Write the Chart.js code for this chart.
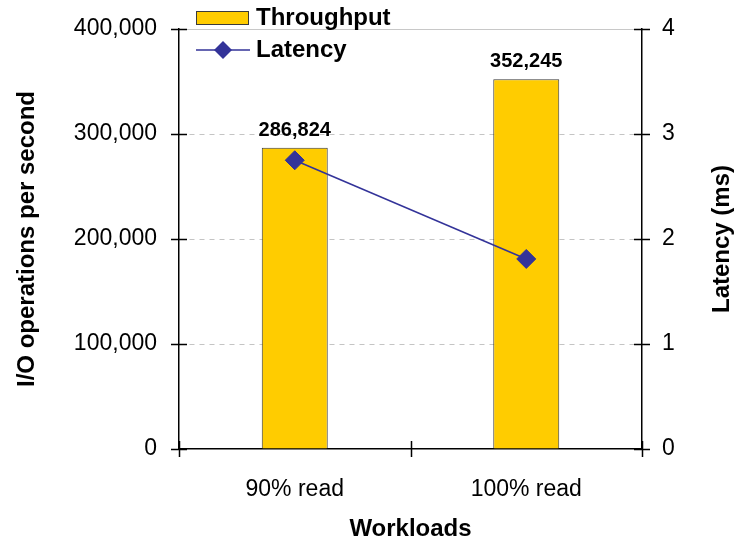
<!DOCTYPE html>
<html>
<head>
<meta charset="utf-8">
<script src="https://cdn.jsdelivr.net/npm/chart.js@4/dist/chart.umd.min.js"></script>
<style>
  html, body { margin: 0; padding: 0; background: #ffffff; }
  #wrap { width: 734px; height: 544px; }
</style>
</head>
<body>
<div id="wrap"><canvas id="c" width="734" height="544"></canvas></div>
<script>
// Workload categories and measured results
const workloads = ['90% read', '100% read'];
const throughput = [286824, 352245];      // I/O operations per second
const latency = [2.75, 1.81];             // milliseconds
const throughputTicks = [0, 100000, 200000, 300000, 400000];
const latencyTicks = [0, 1, 2, 3, 4];

const FONT = "'Liberation Sans', Arial, sans-serif";
const BAR_FILL = '#FFCC00';
const BAR_EDGE = '#3a3a3a';
const LINE_COLOR = '#333399';

const fmt = v => v.toLocaleString('en-US');

// Cross-shaped tick marks on the three axes, top frame line, value labels,
// the right axis title and the legend.
const decorations = {
  id: 'decorations',
  beforeDatasetsDraw(chart) {
    const { ctx, chartArea } = chart;
    ctx.save();
    ctx.strokeStyle = '#c8c8c8';
    ctx.lineWidth = 1;
    ctx.beginPath();
    ctx.moveTo(chartArea.left, Math.round(chartArea.top) + 0.5);
    ctx.lineTo(chartArea.right, Math.round(chartArea.top) + 0.5);
    ctx.stroke();
    ctx.restore();
  },
  afterDatasetsDraw(chart) {
    const { ctx, chartArea, scales } = chart;
    const L = 8;
    ctx.save();
    ctx.strokeStyle = '#000';
    ctx.lineWidth = 1.5;
    ctx.beginPath();
    throughputTicks.forEach(v => {
      const y = Math.round(scales.y.getPixelForValue(v)) + 0.5;
      ctx.moveTo(chartArea.left - L, y);
      ctx.lineTo(chartArea.left + L, y);
    });
    latencyTicks.forEach(v => {
      const y = Math.round(scales.y1.getPixelForValue(v)) + 0.5;
      ctx.moveTo(chartArea.right - L, y);
      ctx.lineTo(chartArea.right + L, y);
    });
    for (let i = 0; i <= workloads.length; i++) {
      const x = Math.round(scales.x.getPixelForValue(i - 0.5)) + 0.5;
      ctx.moveTo(x, chartArea.bottom - L);
      ctx.lineTo(x, chartArea.bottom + L);
    }
    ctx.stroke();

    // value labels above the bars
    const barMeta = chart.getDatasetMeta(0);
    ctx.fillStyle = '#000';
    ctx.font = "bold 20px " + FONT;
    ctx.textAlign = 'center';
    ctx.textBaseline = 'alphabetic';
    barMeta.data.forEach((el, i) => {
      ctx.fillText(fmt(throughput[i]), el.x, el.y - 12);
    });

    // right axis title, reading upwards
    ctx.save();
    ctx.translate(722, (chartArea.top + chartArea.bottom) / 2);
    ctx.rotate(-Math.PI / 2);
    ctx.font = "bold 24px " + FONT;
    ctx.textAlign = 'center';
    ctx.textBaseline = 'middle';
    ctx.fillText('Latency (ms)', 0, 0);
    ctx.restore();

    // legend
    ctx.font = "bold 24px " + FONT;
    ctx.textAlign = 'left';
    ctx.textBaseline = 'middle';
    ctx.fillStyle = BAR_FILL;
    ctx.fillRect(196, 11, 52, 13);
    ctx.strokeStyle = BAR_EDGE;
    ctx.lineWidth = 1;
    ctx.strokeRect(196.5, 11.5, 52, 13);
    ctx.fillStyle = '#000';
    ctx.fillText('Throughput', 256, 18);

    ctx.strokeStyle = LINE_COLOR;
    ctx.lineWidth = 1.5;
    ctx.beginPath();
    ctx.moveTo(196, 50);
    ctx.lineTo(250, 50);
    ctx.stroke();
    ctx.fillStyle = LINE_COLOR;
    ctx.beginPath();
    ctx.moveTo(223 - 9, 50);
    ctx.lineTo(223, 50 - 9);
    ctx.lineTo(223 + 9, 50);
    ctx.lineTo(223, 50 + 9);
    ctx.closePath();
    ctx.fill();
    ctx.fillStyle = '#000';
    ctx.fillText('Latency', 256, 50);
    ctx.restore();
  }
};

// vertical axes: fixed width, no extra room reserved for the end labels
const fixVertical = w => s => { s.width = w; s.paddingTop = 0; s.paddingBottom = 0; };

new Chart(document.getElementById('c'), {
  data: {
    labels: workloads,
    datasets: [
      {
        type: 'bar',
        label: 'Throughput',
        data: throughput,
        yAxisID: 'y',
        backgroundColor: BAR_FILL,
        borderColor: BAR_EDGE,
        borderWidth: 1,
        categoryPercentage: 1,
        barPercentage: 0.285,
        order: 1
      },
      {
        type: 'line',
        label: 'Latency',
        data: latency,
        yAxisID: 'y1',
        borderColor: LINE_COLOR,
        backgroundColor: LINE_COLOR,
        borderWidth: 1.5,
        pointStyle: 'rectRot',
        pointRadius: 9.5,
        pointBorderWidth: 1,
        pointBackgroundColor: LINE_COLOR,
        pointBorderColor: LINE_COLOR,
        tension: 0,
        order: 0
      }
    ]
  },
  options: {
    responsive: false,
    animation: false,
    devicePixelRatio: 1,
    layout: { padding: { top: 29, left: 0, right: 0, bottom: 0 } },
    plugins: {
      legend: { display: false },
      tooltip: { enabled: false }
    },
    scales: {
      x: {
        type: 'category',
        offset: true,
        grid: { display: false, drawTicks: false },
        border: { display: true, color: '#000', width: 1.5 },
        ticks: { color: '#000', font: { family: FONT, size: 23 }, padding: 27, maxRotation: 0 },
        title: {
          display: true,
          text: 'Workloads',
          color: '#000',
          font: { family: FONT, size: 24, weight: 'bold' },
          padding: { top: 0, bottom: 0 }
        },
        afterFit: s => { s.height = 95; s.paddingLeft = 0; s.paddingRight = 0; }
      },
      y: {
        type: 'linear',
        position: 'left',
        min: 0,
        max: 400000,
        afterBuildTicks: s => { s.ticks = throughputTicks.map(v => ({ value: v })); },
        grid: {
          color: ctx => (ctx.tick && (ctx.tick.value === 0 || ctx.tick.value === 400000)) ? 'rgba(0,0,0,0)' : '#c4c4c4',
          lineWidth: 1,
          drawTicks: false
        },
        border: { display: true, color: '#000', width: 1.5, dash: [5, 5] },
        ticks: {
          color: '#000',
          font: { family: FONT, size: 23 },
          padding: 22,
          callback: v => fmt(v)
        },
        title: {
          display: true,
          text: 'I/O operations per second',
          color: '#000',
          font: { family: FONT, size: 24, weight: 'bold' },
          padding: { top: 13, bottom: 0 }
        },
        afterFit: fixVertical(179)
      },
      y1: {
        type: 'linear',
        position: 'right',
        min: 0,
        max: 4,
        afterBuildTicks: s => { s.ticks = latencyTicks.map(v => ({ value: v })); },
        grid: { drawOnChartArea: false, drawTicks: false },
        border: { display: true, color: '#000', width: 1.5 },
        ticks: { color: '#000', font: { family: FONT, size: 23 }, padding: 20 },
        afterFit: fixVertical(92)
      }
    }
  },
  plugins: [decorations]
});
</script>
</body>
</html>
